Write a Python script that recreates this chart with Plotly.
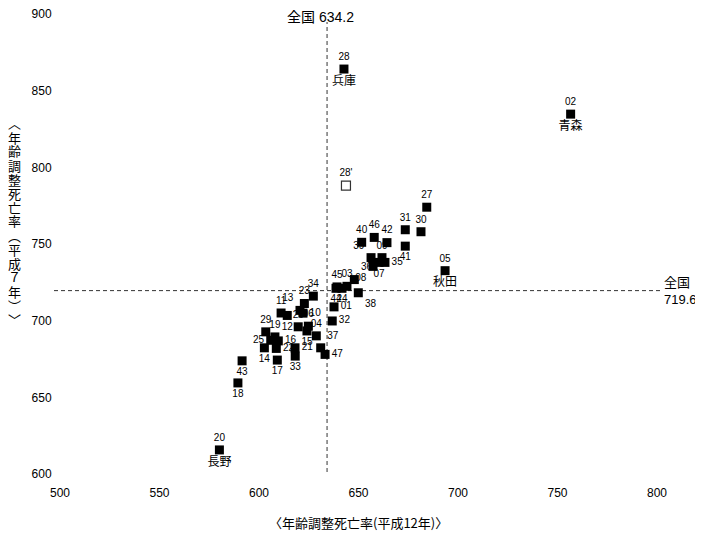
import plotly.graph_objects as go

# Prefecture codes (28' = Hyogo excluding earthquake deaths)
codes = ["01", "02", "03", "04", "05", "06", "07", "08", "09", "10",
         "11", "12", "13", "14", "15", "16", "17", "18", "19", "20",
         "21", "22", "23", "24", "25", "26", "27", "28", "29", "30",
         "31", "32", "33", "34", "35", "36", "37", "38", "39", "40",
         "41", "42", "43", "44", "45", "46", "47", "28'"]

# Age-adjusted death rate, Heisei 12 (x)
rate_h12 = [637.7, 756.6, 644.2, 628.8, 693.5, 624.8, 660.3, 657.3, 661.8, 622.1,
            611.1, 614.2, 620.6, 602.7, 624.1, 609.7, 609.2, 589.4, 608.0, 580.1,
            618.1, 608.7, 622.8, 641.7, 605.9, 619.7, 684.3, 642.7, 603.4, 681.4,
            673.5, 636.8, 618.2, 627.3, 663.3, 647.9, 631.0, 649.9, 656.3, 651.6,
            673.5, 664.3, 591.5, 638.7, 639.2, 657.9, 633.2, 643.7]

# Age-adjusted death rate, Heisei 7 (y)
rate_h7 = [709.0, 834.7, 722.4, 690.1, 732.6, 696.4, 738.0, 735.4, 741.1, 704.9,
           705.0, 703.4, 706.7, 682.3, 693.3, 686.8, 674.3, 659.4, 689.4, 615.7,
           682.3, 681.9, 711.2, 721.1, 687.2, 696.0, 774.0, 864.1, 692.7, 758.0,
           759.3, 699.8, 676.9, 716.0, 738.0, 726.8, 682.3, 718.2, 741.1, 751.1,
           748.6, 750.9, 673.8, 721.1, 722.0, 754.3, 678.0, 788.1]

# Named prefectures
name_codes = ["02", "05", "20", "28"]
names = ["青森", "秋田", "長野", "兵庫"]

national_h12 = 634.2
national_h7 = 719.6

x_ticks = [500, 550, 600, 650, 700, 750, 800]
y_ticks = [600, 650, 700, 750, 800, 850, 900]

x_title = "〈年齢調整死亡率(平成12年)〉"
y_title = "︿年齢調整死亡率︵平成７年︶﹀"

# ---- layout geometry (page is offset by the 8px body margin) ----
W, H = 695, 526
ML, MR, MT, MB = 52, 46, 6, 60
PW, PH = W - ML - MR, H - MT - MB
OFF = 8


def px_x(p):  # page x -> paper x
    return (p - OFF - ML) / PW


def px_y(p):  # page y -> paper y
    return (H - MB - (p - OFF)) / PH


# label placement (style)
label_pos = {
    "01": "middle right", "32": "middle right", "41": "bottom center",
    "44": "bottom center", "24": "bottom center", "38": "bottom right",
    "12": "bottom center", "15": "bottom center", "14": "bottom center",
    "33": "bottom center", "17": "bottom center", "43": "bottom center",
    "18": "bottom center", "08": "bottom left", "07": "bottom center",
    "39": "top left", "36": "top right", "35": "middle right",
    "13": "top left", "10": "middle right", "25": "middle left",
    "16": "middle right", "22": "middle right", "21": "middle right",
    "37": "top right", "47": "middle right",
}
positions = [label_pos.get(c, "top center") for c in codes]

solid_idx = [i for i, c in enumerate(codes) if c != "28'"]
open_idx = [i for i, c in enumerate(codes) if c == "28'"]

label_font = dict(family="Liberation Sans, Arial, sans-serif", size=10, color="black")
cjk = "Noto Sans CJK JP"
mixed = "Liberation Sans, Noto Sans CJK JP, sans-serif"

fig = go.Figure()
fig.add_trace(go.Scatter(
    x=[rate_h12[i] for i in solid_idx], y=[rate_h7[i] for i in solid_idx],
    mode="markers+text", text=[codes[i] for i in solid_idx],
    textposition=[positions[i] for i in solid_idx], textfont=label_font,
    marker=dict(symbol="square", size=9, color="black"),
    showlegend=False, cliponaxis=False, hoverinfo="skip"))
fig.add_trace(go.Scatter(
    x=[rate_h12[i] for i in open_idx], y=[rate_h7[i] for i in open_idx],
    mode="markers+text", text=[codes[i] for i in open_idx],
    textposition="top center", textfont=label_font,
    marker=dict(symbol="square", size=9, color="white", line=dict(color="#333", width=1.2)),
    showlegend=False, cliponaxis=False, hoverinfo="skip"))
fig.add_trace(go.Scatter(
    x=[rate_h12[codes.index(c)] for c in name_codes],
    y=[rate_h7[codes.index(c)] for c in name_codes],
    mode="markers+text", text=names, textposition="bottom center",
    marker=dict(symbol="square", size=9, color="rgba(0,0,0,0)"),
    textfont=dict(family=cjk, size=12, color="black"),
    showlegend=False, cliponaxis=False, hoverinfo="skip"))

dash_line = dict(color="#333", width=1, dash="4px,3px")
fig.add_shape(type="line", xref="paper", yref="y", x0=px_x(54), x1=px_x(660),
              y0=national_h7, y1=national_h7, line=dash_line, layer="below")
fig.add_shape(type="line", xref="x", yref="paper", x0=national_h12, x1=national_h12,
              y0=px_y(472), y1=px_y(22), line=dash_line, layer="below")

fig.add_annotation(x=national_h12, xref="x", y=px_y(17), yref="paper",
                   text=f"全国 {national_h12}", showarrow=False, xanchor="center",
                   yanchor="middle", xshift=-7,
                   font=dict(family=mixed, size=14, color="black"))
fig.add_annotation(x=px_x(662), xref="paper", y=national_h7, yref="y",
                   text=f"全国<br>{national_h7}", showarrow=False, xanchor="left",
                   yanchor="middle", align="left",
                   font=dict(family=mixed, size=13, color="black"))

# vertical y-axis title, one character per row
for k, ch in enumerate(y_title):
    fig.add_annotation(x=px_x(14), xref="paper", y=px_y(123 + k * 14), yref="paper",
                       text=ch, showarrow=False, xanchor="center", yanchor="middle",
                       font=dict(family=cjk, size=13, color="black"))

fig.add_annotation(x=0.5, xref="paper", y=px_y(522), yref="paper",
                   text=x_title, showarrow=False, xanchor="center", yanchor="middle",
                   font=dict(family=cjk, size=13, color="black"))

axis_common = dict(showgrid=False, zeroline=False, showline=False, automargin=False,
                   ticks="outside", tickcolor="rgba(0,0,0,0)",
                   ticklabeloverflow="allow",
                   tickfont=dict(family="Liberation Sans, Arial, sans-serif", size=12, color="black"))
fig.update_xaxes(range=[500, 800], tickvals=x_ticks, ticklen=8, **axis_common)
fig.update_yaxes(range=[600, 900], tickvals=y_ticks, ticklen=5, **axis_common)

fig.update_layout(width=W, height=H, margin=dict(l=ML, r=MR, t=MT, b=MB, autoexpand=False),
                  plot_bgcolor="white", paper_bgcolor="white")

fig.write_html("out.html")
